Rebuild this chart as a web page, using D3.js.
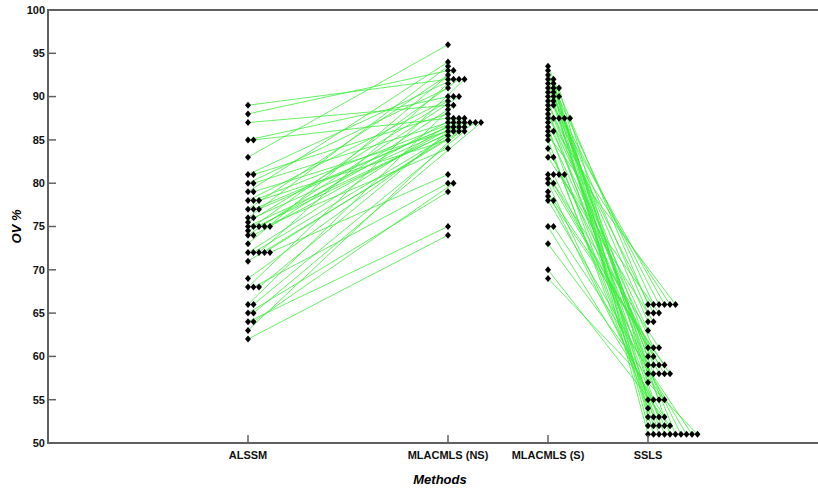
<!DOCTYPE html>
<html>
<head>
<meta charset="utf-8">
<script src="https://cdn.jsdelivr.net/npm/d3@7"></script>
<style>
  body { margin: 0; background: #fff; }
  text { font-family: "Liberation Sans", Arial, sans-serif; }
  .tick-label { font-size: 11px; font-weight: bold; fill: #111; }
</style>
</head>
<body>
<div id="chart"></div>
<script>
// categories and their spot on the x axis (axis runs 0 .. 7.7)
var methods = ["ALSSM", "MLACMLS (NS)", "MLACMLS (S)", "SSLS"];
var methodPos = [2, 4, 5, 6];
var yTicks = [50, 55, 60, 65, 70, 75, 80, 85, 90, 95, 100];

// paired values: alssm[i] <-> mlacmlsNS[i]
var alssm = [89, 88, 87, 85, 85, 83, 81, 81, 80, 80, 79, 79, 78, 78, 78, 77, 77, 77, 76, 76,
  75.5, 75, 75, 75, 75, 75, 74.5, 74, 74, 73, 72, 72, 72, 72, 72, 71, 69, 68, 68, 68,
  66, 66, 65, 65, 64, 64, 63, 62];
var mlacmlsNS = [92, 93, 89, 90, 87.5, 96, 92, 88, 91, 87, 94, 86, 90, 87, 85, 92.5, 87, 86.5, 93.5, 87,
  89.5, 86, 92, 87.5, 84, 88.5, 87, 90, 86.5, 93, 87.5, 85.5, 91.5, 86, 81, 87, 86.5, 92, 80, 87.5,
  89, 86, 79, 87, 75, 80, 86.5, 74];

// paired values: mlacmlsS[i] <-> ssls[i]
var mlacmlsS = [93.5, 93, 92.5, 92, 92, 91.5, 91.5, 91, 91, 91, 90.5, 90.5, 90, 90, 90, 89.5, 89.5, 89, 89, 88.5,
  88, 87.5, 87.5, 87.5, 87.5, 87.5, 87, 86.5, 86, 86, 85.5, 85, 84, 83, 83, 81, 81, 81, 81, 80.5,
  80, 80, 79, 78.5, 78, 78, 75, 75, 73, 70, 69];
var ssls = [66, 58, 66, 61, 51, 65, 55, 66, 59, 51, 64, 53, 66, 58, 52, 60, 51, 65, 55, 51,
  63, 66, 59, 52, 51, 57, 61, 53, 58, 51, 66, 54, 59, 64, 52, 60, 51, 65, 55, 58,
  53, 61, 52, 58, 51, 59, 53, 51, 55, 52, 51];

var width = 818, height = 491;
var margin = {top: 10, right: 0, bottom: 48, left: 48};

var svg = d3.select("#chart").append("svg")
  .attr("width", width).attr("height", height);

var x = d3.scaleLinear().domain([0, 7.7]).range([margin.left, width - margin.right]);
var y = d3.scaleLinear().domain([50, 100]).range([height - margin.bottom, margin.top]);

var dotStep = 5.5; // sideways shift for repeated values

// give each value in a column a sideways offset when it repeats
function layout(values, pos) {
  var seen = {};
  return values.map(function(v) {
    var k = String(v);
    seen[k] = (seen[k] || 0);
    var px = x(pos) + seen[k] * dotStep;
    seen[k]++;
    return {v: v, px: px, py: y(v)};
  });
}

var colA = layout(alssm, methodPos[0]);
var colB = layout(mlacmlsNS, methodPos[1]);
var colC = layout(mlacmlsS, methodPos[2]);
var colD = layout(ssls, methodPos[3]);

// connecting lines first so dots sit on top
var lineGroup = svg.append("g")
  .attr("stroke", "#3ded3d").attr("stroke-width", 0.8).attr("fill", "none");

function pairLines(left, right) {
  lineGroup.selectAll(null).data(d3.range(left.length)).enter()
    .append("line")
    .attr("x1", i => left[i].px).attr("y1", i => left[i].py)
    .attr("x2", i => right[i].px).attr("y2", i => right[i].py);
}
pairLines(colA, colB);
pairLines(colC, colD);

// diamond markers
var diamond = "M0,-3.5L3,0L0,3.5L-3,0Z";
var dotGroup = svg.append("g").attr("fill", "#000");
[colA, colB, colC, colD].forEach(function(col) {
  dotGroup.selectAll(null).data(col).enter()
    .append("path")
    .attr("d", diamond)
    .attr("transform", d => `translate(${d.px},${d.py})`);
});

// axes frame
var axisColor = "#606060";
svg.append("line")
  .attr("x1", x(0)).attr("x2", width).attr("y1", y(100)).attr("y2", y(100))
  .attr("stroke", axisColor).attr("stroke-width", 2);
svg.append("line")
  .attr("x1", x(0)).attr("x2", width).attr("y1", y(50)).attr("y2", y(50))
  .attr("stroke", axisColor).attr("stroke-width", 2);
svg.append("line")
  .attr("x1", x(0)).attr("x2", x(0)).attr("y1", y(100) - 1).attr("y2", y(50) + 1)
  .attr("stroke", axisColor).attr("stroke-width", 2);

// y ticks, pointing inward
var yTickG = svg.append("g");
yTickG.selectAll("line").data(yTicks.slice(1, -1)).enter().append("line")
  .attr("x1", x(0)).attr("x2", x(0) + 8)
  .attr("y1", d => y(d)).attr("y2", d => y(d))
  .attr("stroke", axisColor).attr("stroke-width", 1.5);
yTickG.selectAll("text").data(yTicks).enter().append("text")
  .attr("class", "tick-label")
  .attr("x", x(0) - 3).attr("y", d => y(d)).attr("dy", "0.35em")
  .attr("text-anchor", "end")
  .text(d => d);

// x ticks, pointing inward
var xTickG = svg.append("g");
xTickG.selectAll("line").data(methodPos).enter().append("line")
  .attr("x1", d => x(d)).attr("x2", d => x(d))
  .attr("y1", y(50)).attr("y2", y(50) - 8)
  .attr("stroke", axisColor).attr("stroke-width", 1.5);
xTickG.selectAll("text").data(methods).enter().append("text")
  .attr("class", "tick-label")
  .attr("x", (d, i) => x(methodPos[i])).attr("y", y(50) + 16)
  .attr("text-anchor", "middle")
  .text(d => d);

// axis titles
svg.append("text")
  .attr("x", 440).attr("y", 484)
  .attr("text-anchor", "middle")
  .style("font-size", "13px").style("font-weight", "bold").style("font-style", "italic")
  .text("Methods");
svg.append("text")
  .attr("transform", `translate(21, ${(y(100) + y(50)) / 2}) rotate(-90)`)
  .attr("text-anchor", "middle")
  .style("font-size", "13px").style("font-weight", "bold").style("font-style", "italic")
  .text("OV %");
</script>
</body>
</html>
